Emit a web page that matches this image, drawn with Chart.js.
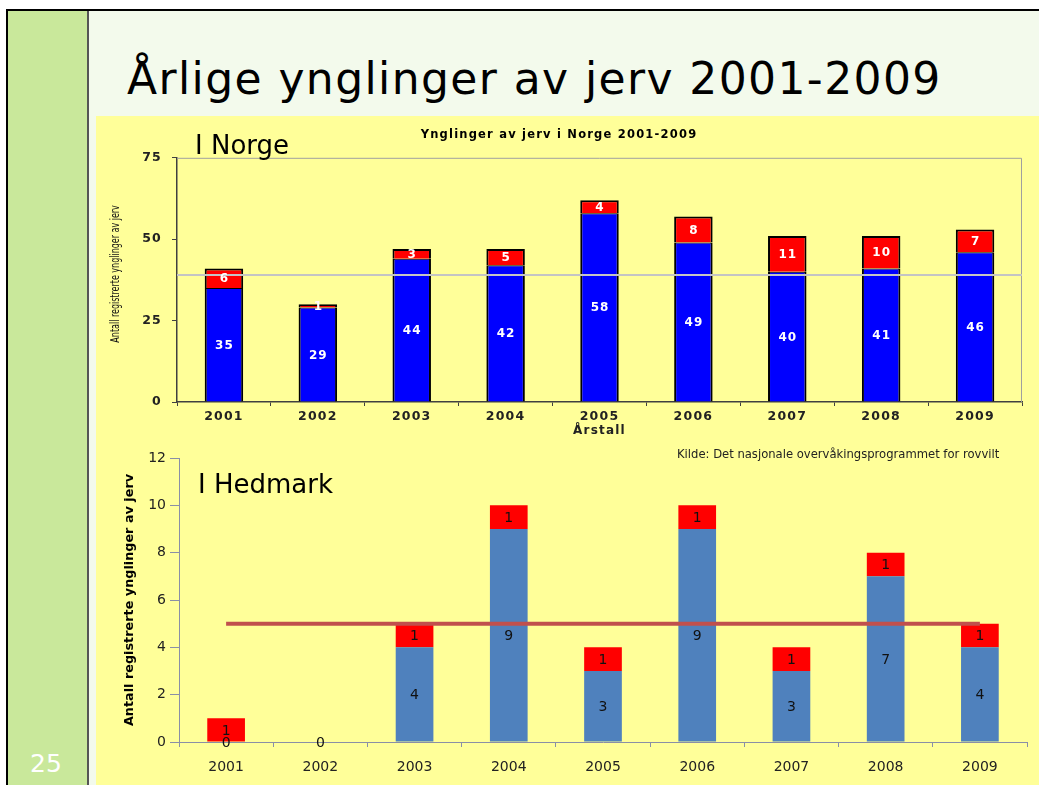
<!DOCTYPE html>
<html lang="no">
<head>
  <meta charset="UTF-8">
  <title>Årlige ynglinger av jerv 2001-2009</title>
  <script src="https://cdn.jsdelivr.net/npm/chart.js"></script>
  <style>
    body {
      margin: 0;
      width: 1039px;
      height: 785px;
      background: #fff;
      position: relative;
      overflow: hidden;
      font-family: "DejaVu Sans", sans-serif;
    }
    .slide {
      position: absolute;
      left: 6px;
      top: 9px;
      right: 0;
      bottom: 0;
      border-top: 2px solid #000;
      border-left: 2px solid #000;
      background: #f3faec;
    }
    .sidebar {
      position: absolute;
      left: 0;
      top: 0;
      bottom: 0;
      width: 79px;
      background: #c9e89b;
      border-right: 2px solid #555;
    }
    .pagenum {
      position: absolute;
      left: 30px;
      top: 749px;
      color: #fff;
      font-size: 25px;
    }
    h1 {
      position: absolute;
      left: 127px;
      top: 53px;
      margin: 0;
      font-family: "DejaVu Sans", sans-serif;
      font-weight: normal;
      font-size: 44px;
      letter-spacing: 1.4px;
      color: #000;
      white-space: nowrap;
    }
    .panel {
      position: absolute;
      left: 96px;
      background: #ffff99;
    }
    #norgePanel { top: 116px; width: 943px; height: 324px; }
    #hedPanel { top: 440px; width: 943px; height: 345px; }
    .label {
      position: absolute;
      font-family: "DejaVu Sans", sans-serif;
      color: #000;
      white-space: nowrap;
    }
    #norgeLbl { left: 99px; top: 14px; font-size: 26px; }
    #hedLbl { left: 102px; top: 29px; font-size: 26px; }
    #kilde {
      position: absolute;
      left: 581px;
      top: 7px;
      font-size: 11.6px;
      color: #222;
      white-space: nowrap;
    }
  </style>
</head>
<body>
  <div class="slide">
    <div class="sidebar"></div>
  </div>
  <div class="pagenum">25</div>
  <h1>Årlige ynglinger av jerv 2001-2009</h1>

  <div class="panel" id="norgePanel">
    <canvas id="norgeChart" width="943" height="324"></canvas>
    <div class="label" id="norgeLbl">I Norge</div>
  </div>

  <div class="panel" id="hedPanel">
    <canvas id="hedChart" width="943" height="345"></canvas>
    <div class="label" id="hedLbl">I Hedmark</div>
    <div id="kilde">Kilde: Det nasjonale overvåkingsprogrammet for rovvilt</div>
  </div>

  <script>
    // data
    const years = ["2001", "2002", "2003", "2004", "2005", "2006", "2007", "2008", "2009"];

    // Norge
    const norgeGamle = [35, 29, 44, 42, 58, 49, 40, 41, 46];
    const norgeNye = [6, 1, 3, 5, 4, 8, 11, 10, 7];
    const norgeSnitt = 39;
    const norgeTicks = [0, 25, 50, 75];
    const norgeYTitle = "Antall registrerte ynglinger av jerv";

    // Hedmark
    const hedGamle = [0, 0, 4, 9, 3, 9, 3, 7, 4];
    const hedNye = [1, null, 1, 1, 1, 1, 1, 1, 1];
    const hedSnitt = [5, 5, 5, 5, 5, 5, 5, 5, 5];

    // writes the value in the middle of each bar segment
    const barLabels = {
      id: "barLabels",
      afterDatasetsDraw(chart, args, opts) {
        const ctx = chart.ctx;
        ctx.save();
        ctx.font = opts.font;
        ctx.fillStyle = opts.color;
        ctx.letterSpacing = opts.spacing || "0px";
        ctx.textAlign = "center";
        ctx.textBaseline = "middle";
        chart.data.datasets.forEach((ds, i) => {
          if (ds.type === "line") return;
          const meta = chart.getDatasetMeta(i);
          meta.data.forEach((bar, j) => {
            const v = ds.data[j];
            if (v === null || v === undefined) return;
            const y = (bar.y + bar.base) / 2;
            ctx.fillText(String(v), bar.x + (opts.dx || 0), y + (opts.dy || 0));
          });
        });
        ctx.restore();
      }
    };

    // top chart: wide lettering for scale text, grey frame, narrow y title, average line
    const norgeExtras = {
      id: "norgeExtras",
      beforeDraw(chart) {
        chart.ctx.letterSpacing = "1.2px";
      },
      beforeDatasetsDraw(chart) {
        const { ctx, chartArea: a } = chart;
        ctx.letterSpacing = "0px";
        ctx.save();
        ctx.strokeStyle = "#a0a0a0";
        ctx.lineWidth = 1;
        ctx.beginPath();
        ctx.moveTo(a.left, a.top + 0.5);
        ctx.lineTo(a.right - 0.5, a.top + 0.5);
        ctx.lineTo(a.right - 0.5, a.bottom);
        ctx.stroke();

        // narrow rotated axis title
        const cy = (a.top + a.bottom) / 2 - 6;
        ctx.translate(20, cy);
        ctx.rotate(-Math.PI / 2);
        ctx.scale(0.74, 1);
        ctx.font = "12px 'DejaVu Sans Condensed', 'DejaVu Sans', sans-serif";
        ctx.fillStyle = "#111";
        ctx.textAlign = "center";
        ctx.textBaseline = "middle";
        ctx.fillText(norgeYTitle, 0, 0);
        ctx.restore();
      },
      afterDatasetsDraw(chart) {
        const { ctx, chartArea: a } = chart;
        const y = chart.scales.y.getPixelForValue(norgeSnitt);
        ctx.save();
        ctx.strokeStyle = "#c4c4c4";
        ctx.lineWidth = 2;
        ctx.beginPath();
        ctx.moveTo(a.left, y);
        ctx.lineTo(a.right, y);
        ctx.stroke();
        ctx.restore();
      }
    };

    const boldWide = "'DejaVu Sans', sans-serif";

    new Chart(document.getElementById("norgeChart"), {
      type: "bar",
      data: {
        labels: years,
        datasets: [
          {
            label: "Gamle",
            data: norgeGamle,
            backgroundColor: "#0000ff",
            borderColor: "#000",
            borderWidth: { left: 2, right: 2, bottom: 0, top: 1 },
            borderSkipped: false,
            categoryPercentage: 1,
            barPercentage: 0.41
          },
          {
            label: "Nye",
            data: norgeNye,
            backgroundColor: "#ff0000",
            borderColor: "#000",
            borderWidth: { left: 2, right: 2, bottom: 0, top: 2 },
            borderSkipped: false,
            categoryPercentage: 1,
            barPercentage: 0.41
          }
        ]
      },
      options: {
        responsive: false,
        animation: false,
        events: [],
        layout: { padding: { left: 0, right: 17, top: 0, bottom: 0 } },
        plugins: {
          legend: { display: false },
          tooltip: { enabled: false },
          title: {
            display: true,
            text: "Ynglinger av jerv i Norge 2001-2009",
            color: "#000",
            font: { family: boldWide, size: 11.5, weight: "bold" },
            padding: { top: 12, bottom: 16 }
          },
          barLabels: { font: "bold 12px 'DejaVu Sans', sans-serif", color: "#fff", dy: 1, dx: 0.5, spacing: "1px" }
        },
        scales: {
          x: {
            stacked: true,
            afterFit: s => { s.height = 38; },
            grid: { offset: true, drawOnChartArea: false, tickLength: 4, tickColor: "#404040" },
            border: { color: "#404040", width: 1.5 },
            ticks: { color: "#222", font: { family: boldWide, size: 12.5, weight: "bold" }, padding: 3 },
            title: {
              display: true,
              text: "Årstall",
              color: "#222",
              font: { family: boldWide, size: 12, weight: "bold" },
              padding: { top: 0, bottom: 2 }
            }
          },
          y: {
            stacked: true,
            min: 0,
            max: 75,
            afterFit: s => { s.width = 81; },
            afterBuildTicks: s => { s.ticks = norgeTicks.map(v => ({ value: v })); },
            grid: { drawOnChartArea: false, tickLength: 5, tickColor: "#404040" },
            border: { color: "#404040", width: 1.5 },
            ticks: { color: "#222", font: { family: boldWide, size: 12.5, weight: "bold" }, padding: 10 }
          }
        }
      },
      plugins: [norgeExtras, barLabels]
    });

    const axisBlue = "#8a8fa6";

    new Chart(document.getElementById("hedChart"), {
      type: "bar",
      data: {
        labels: years,
        datasets: [
          {
            type: "line",
            label: "Snitt",
            data: hedSnitt,
            borderColor: "#c0504d",
            borderWidth: 4,
            pointRadius: 0,
            order: 0
          },
          {
            label: "Gamle",
            data: hedGamle,
            backgroundColor: "#4f81bd",
            borderWidth: 0,
            categoryPercentage: 1,
            barPercentage: 0.4,
            order: 1
          },
          {
            label: "Nye",
            data: hedNye,
            backgroundColor: "#ff0000",
            borderWidth: 0,
            categoryPercentage: 1,
            barPercentage: 0.4,
            order: 1
          }
        ]
      },
      options: {
        responsive: false,
        animation: false,
        events: [],
        layout: { padding: { left: 0, right: 12, top: 18, bottom: 0 } },
        plugins: {
          legend: { display: false },
          tooltip: { enabled: false },
          barLabels: { font: "14px 'DejaVu Sans', sans-serif", color: "#111", dy: 1 }
        },
        scales: {
          x: {
            stacked: true,
            afterFit: s => { s.height = 43; },
            grid: { offset: true, drawOnChartArea: false, tickLength: 5, tickColor: axisBlue },
            border: { color: axisBlue, width: 1 },
            ticks: { color: "#222", font: { family: "'DejaVu Sans', sans-serif", size: 14 }, padding: 12 }
          },
          y: {
            stacked: true,
            min: 0,
            max: 12,
            afterFit: s => { s.width = 83; },
            grid: { drawOnChartArea: false, tickLength: 9, tickColor: axisBlue },
            border: { color: axisBlue, width: 1 },
            ticks: { stepSize: 2, color: "#222", font: { family: "'DejaVu Sans', sans-serif", size: 14 }, padding: 4 },
            title: {
              display: true,
              text: "Antall registrerte ynglinger av jerv",
              color: "#000",
              font: { family: "'DejaVu Sans', sans-serif", size: 12.8, weight: "bold" },
              padding: { top: 26, bottom: 0 }
            }
          }
        }
      },
      plugins: [barLabels]
    });
  </script>
</body>
</html>
